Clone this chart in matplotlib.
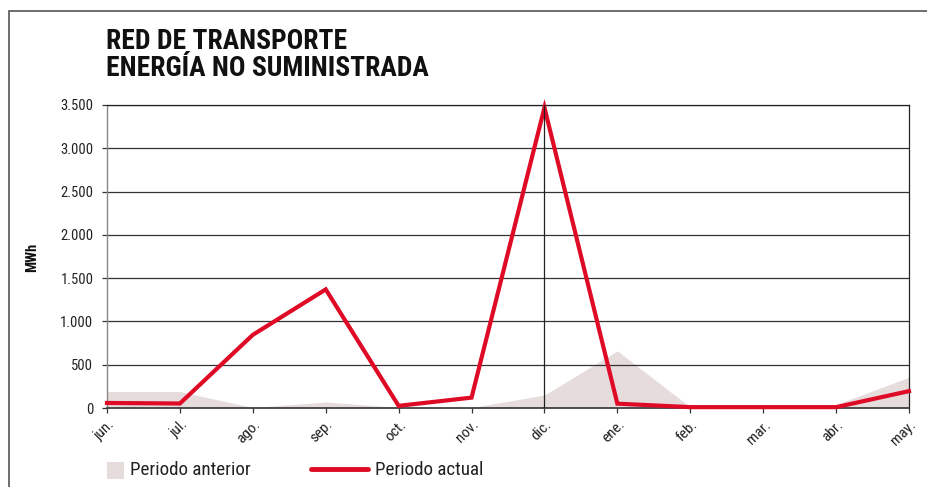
import matplotlib
matplotlib.use("Agg")
import matplotlib.pyplot as plt
from matplotlib.patches import Rectangle
from matplotlib.lines import Line2D
from matplotlib.transforms import ScaledTranslation
from matplotlib import font_manager

months = ["jun.", "jul.", "ago.", "sep.", "oct.", "nov.", "dic.",
          "ene.", "feb.", "mar.", "abr.", "may."]
periodo_anterior = [190, 190, 5, 70, 5, 5, 150, 660, 10, 10, 40, 355]
periodo_actual = [58, 52, 845, 1370, 25, 120, 3470, 50, 10, 10, 10, 195]
y_ticks = [0, 500, 1000, 1500, 2000, 2500, 3000, 3500]
y_tick_labels = ["0", "500", "1.000", "1.500", "2.000", "2.500", "3.000", "3.500"]

# condensed grotesque for all text, first one installed wins
names = {f.name for f in font_manager.fontManager.ttflist}
candidates = ["Roboto Condensed", "Archivo Narrow", "PT Sans Narrow",
              "Fira Sans Condensed", "IBM Plex Sans Condensed",
              "Liberation Sans Narrow", "Liberation Sans"]
narrow = next(c for c in candidates if c in names)
plt.rcParams["font.family"] = [narrow, "DejaVu Sans"]

RED = "#de0a26"
GREY_FILL = "#e6dcdc"
TXT = "#222222"

W, H = 927, 487
fig = plt.figure(figsize=(W / 100, H / 100), dpi=100)

# outer frame (right and bottom edges run off the page)
fig.add_artist(Rectangle((9 / W, -0.1), 1.2, (H - 11) / H + 0.1,
                         transform=fig.transFigure, fill=False,
                         edgecolor="#555555", linewidth=1.2))

ax = fig.add_axes([107 / W, (H - 408) / H, (909 - 107) / W, (408 - 105) / H])
x = list(range(len(months)))

ax.fill_between(x, periodo_anterior, 0, color=GREY_FILL, linewidth=0, zorder=1)
for yv in y_ticks[1:]:
    ax.axhline(yv, color="#333333", linewidth=0.9, zorder=2)
ax.plot(x, periodo_actual, color=RED, linewidth=3.0, solid_joinstyle="miter",
        zorder=4, clip_on=False)
ax.axvline(6, color="#222222", linewidth=0.9, zorder=5)

ax.set_xlim(0, len(months) - 1)
ax.set_ylim(0, 3500)
ax.set_yticks(y_ticks)
ax.set_yticklabels(y_tick_labels, fontsize=10.5, color=TXT)
ax.set_xticks(x)
ax.set_xticklabels(months, rotation=45, ha="right", va="top",
                   rotation_mode="anchor", fontsize=11, color=TXT)
shift = ScaledTranslation(5 / 100, 0, fig.dpi_scale_trans)
for lbl in ax.get_xticklabels():
    lbl.set_transform(lbl.get_transform() + shift)
ax.tick_params(axis="both", direction="out", length=3.8, width=0.9,
               color="#333333", pad=3)
ax.tick_params(axis="y", pad=6)

for side in ["top", "right"]:
    ax.spines[side].set_color("#222222")
    ax.spines[side].set_linewidth(0.9)
ax.spines["left"].set_color("#888888")
ax.spines["left"].set_linewidth(1.0)
ax.spines["bottom"].set_color("#333333")
ax.spines["bottom"].set_linewidth(1.2)

fig.text(32 / W, 1 - 257 / H, "MWh", fontsize=10.5, fontweight="bold",
         rotation=90, ha="center", va="center", color="#111111")

fig.text(106 / W, 1 - 28 / H, "RED DE TRANSPORTE\nENERGÍA NO SUMINISTRADA",
         fontsize=19.8, fontweight="bold", ha="left", va="top",
         linespacing=1.02, color="#111111")

# legend
fig.add_artist(Rectangle((107 / W, 1 - 479 / H), 17 / W, 17 / H,
                         transform=fig.transFigure, color=GREY_FILL,
                         linewidth=0))
fig.text(130 / W, 1 - 470 / H, "Periodo anterior", fontsize=13.7,
         ha="left", va="center", color=TXT)
fig.add_artist(Line2D([311 / W, 368 / W], [1 - 469 / H, 1 - 469 / H],
                      transform=fig.transFigure, color=RED, linewidth=3.5,
                      solid_capstyle="round"))
fig.text(375 / W, 1 - 470 / H, "Periodo actual", fontsize=13.7,
         ha="left", va="center", color=TXT)

fig.savefig("out.png", dpi=100)
